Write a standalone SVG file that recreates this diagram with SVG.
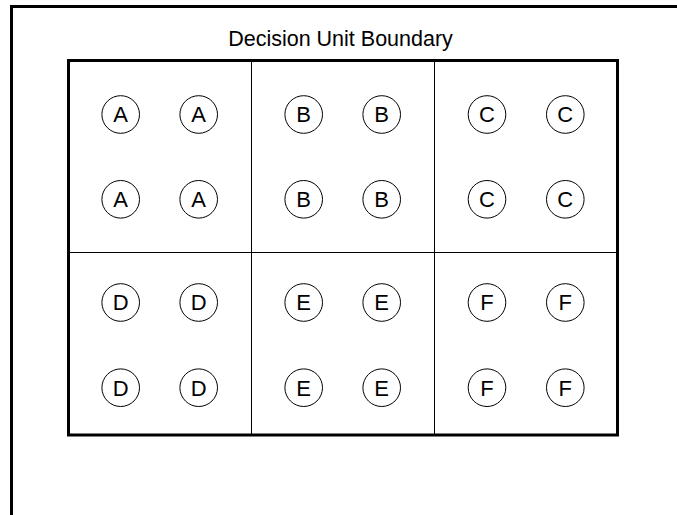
<svg xmlns="http://www.w3.org/2000/svg" width="677" height="515" viewBox="0 0 677 515">
<style>
.frame{fill:none;stroke:#000;stroke-width:3}
.div{fill:none;stroke:#000;stroke-width:1}
.n circle{fill:#fff;stroke:#000;stroke-width:1}
.n text{font-family:"Liberation Sans",Arial,sans-serif;font-size:22px;text-anchor:middle;fill:#000}
.title{font-family:"Liberation Sans",Arial,sans-serif;font-size:21.5px;text-anchor:middle;fill:#000}
</style>
<rect width="677" height="515" fill="#fff"/>
<g id="outer-frame">
<line class="frame" x1="10" y1="6.5" x2="677" y2="6.5"/>
<line class="frame" x1="11.5" y1="5" x2="11.5" y2="515"/>
</g>
<text class="title" x="340.5" y="45.5">Decision Unit Boundary</text>
<g id="boundary">
<rect class="frame" x="68.5" y="60.5" width="549" height="374.5"/>
<line class="div" x1="251.5" y1="60.5" x2="251.5" y2="435"/>
<line class="div" x1="434.5" y1="60.5" x2="434.5" y2="435"/>
<line class="div" x1="68.5" y1="252.5" x2="617.5" y2="252.5"/>
</g>
<g id="connectors"/>
<g id="A1" class="n"><circle cx="120.7" cy="114.5" r="18.8"/><text x="120.7" y="122.4">A</text></g>
<g id="A2" class="n"><circle cx="198.7" cy="114.5" r="18.8"/><text x="198.7" y="122.4">A</text></g>
<g id="A3" class="n"><circle cx="120.7" cy="199.3" r="18.8"/><text x="120.7" y="207.2">A</text></g>
<g id="A4" class="n"><circle cx="198.7" cy="199.3" r="18.8"/><text x="198.7" y="207.2">A</text></g>
<g id="B1" class="n"><circle cx="303.7" cy="114.5" r="18.8"/><text x="303.7" y="122.4">B</text></g>
<g id="B2" class="n"><circle cx="381.7" cy="114.5" r="18.8"/><text x="381.7" y="122.4">B</text></g>
<g id="B3" class="n"><circle cx="303.7" cy="199.3" r="18.8"/><text x="303.7" y="207.2">B</text></g>
<g id="B4" class="n"><circle cx="381.7" cy="199.3" r="18.8"/><text x="381.7" y="207.2">B</text></g>
<g id="C1" class="n"><circle cx="487" cy="114.5" r="18.8"/><text x="487" y="122.4">C</text></g>
<g id="C2" class="n"><circle cx="565.3" cy="114.5" r="18.8"/><text x="565.3" y="122.4">C</text></g>
<g id="C3" class="n"><circle cx="487" cy="199.3" r="18.8"/><text x="487" y="207.2">C</text></g>
<g id="C4" class="n"><circle cx="565.3" cy="199.3" r="18.8"/><text x="565.3" y="207.2">C</text></g>
<g id="D1" class="n"><circle cx="120.7" cy="302.5" r="18.8"/><text x="120.7" y="310.4">D</text></g>
<g id="D2" class="n"><circle cx="198.7" cy="302.5" r="18.8"/><text x="198.7" y="310.4">D</text></g>
<g id="D3" class="n"><circle cx="120.7" cy="387.7" r="18.8"/><text x="120.7" y="395.6">D</text></g>
<g id="D4" class="n"><circle cx="198.7" cy="387.7" r="18.8"/><text x="198.7" y="395.6">D</text></g>
<g id="E1" class="n"><circle cx="303.7" cy="302.5" r="18.8"/><text x="303.7" y="310.4">E</text></g>
<g id="E2" class="n"><circle cx="381.7" cy="302.5" r="18.8"/><text x="381.7" y="310.4">E</text></g>
<g id="E3" class="n"><circle cx="303.7" cy="387.7" r="18.8"/><text x="303.7" y="395.6">E</text></g>
<g id="E4" class="n"><circle cx="381.7" cy="387.7" r="18.8"/><text x="381.7" y="395.6">E</text></g>
<g id="F1" class="n"><circle cx="487" cy="302.5" r="18.8"/><text x="487" y="310.4">F</text></g>
<g id="F2" class="n"><circle cx="565.3" cy="302.5" r="18.8"/><text x="565.3" y="310.4">F</text></g>
<g id="F3" class="n"><circle cx="487" cy="387.7" r="18.8"/><text x="487" y="395.6">F</text></g>
<g id="F4" class="n"><circle cx="565.3" cy="387.7" r="18.8"/><text x="565.3" y="395.6">F</text></g>
</svg>
